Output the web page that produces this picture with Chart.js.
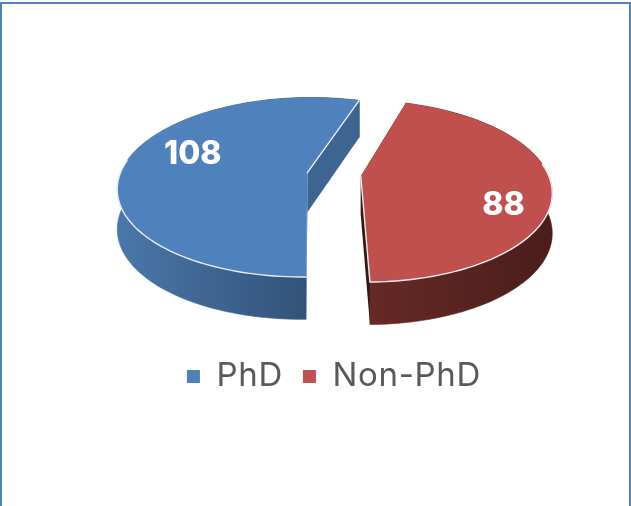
<!DOCTYPE html>
<html>
<head>
<meta charset="utf-8">
<style>
html,body{margin:0;padding:0;background:#fff;width:631px;height:506px;overflow:hidden}
#frame{position:absolute;left:0;top:2px;width:627px;height:520px;border:solid #4f81bd;border-width:2px 2px 0 2px;box-sizing:content-box}
#wrap{position:absolute;left:0;top:0;width:631px;height:506px}
canvas{filter:blur(0.5px)}
</style>
<script src="https://cdn.jsdelivr.net/npm/chart.js@4"></script>
</head>
<body>
<div id="frame"></div>
<div id="wrap"><canvas id="c" width="631" height="506"></canvas></div>
<script>
const categories = ['PhD', 'Non-PhD'];
const values = [108, 88];
const topColors = ['#4f81bd', '#c0504d'];
const rimColors = [['#4a77aa', '#2c486b'], ['#662925', '#4a1d1b']];
const wallColors = ['#3e6491', '#3b1513'];
const firstSliceAngle = 179;
const explode = 0.144;      // slice pull-out, fraction of radius
const tilt = {sx: 187.5, sy: 88, persp: 0.162, depth: 39.5, depthPersp: 0.07};
const labelTurn = 13 * Math.PI / 180;
const labelFrac = [0.69, 0.77];
const labelDrop = 3;
const legendSpacing = '0.7px';

function pt(el, a, frac) {
  const mid = (el.startAngle + el.endAngle) / 2;
  const u = explode * Math.cos(mid) + frac * Math.cos(a);
  const v = explode * Math.sin(mid) + frac * Math.sin(a);
  const w = 1 - tilt.persp * v;
  const x = el.x + tilt.sx * u / w, y = el.y + tilt.sy * v / w;
  return {x, y, h: tilt.depth / (1 - tilt.depthPersp * v), front: Math.sin(a) > -0.15};
}
function rim(el) {
  const n = 120, out = [];
  for (let i = 0; i <= n; i++) out.push(pt(el, el.startAngle + (el.endAngle - el.startAngle) * i / n, 1));
  return out;
}
const pie3d = {
  id: 'pie3d',
  beforeLayout(chart) { chart.ctx.letterSpacing = legendSpacing; },
  beforeDatasetDraw(chart) {
    const ctx = chart.ctx, meta = chart.getDatasetMeta(0);
    ctx.save();
    ctx.letterSpacing = '0px';
    meta.data.forEach((el, i) => {
      const pts = rim(el), tip = pt(el, 0, 0);
      const last = pts[pts.length - 1];
      const xs = pts.map(p => p.x);
      const g = ctx.createLinearGradient(Math.min(...xs), 0, Math.max(...xs), 0);
      g.addColorStop(0, rimColors[i][0]);
      g.addColorStop(1, rimColors[i][1]);
      // outer wall
      ctx.fillStyle = g; ctx.strokeStyle = g; ctx.lineWidth = 0.6;
      ctx.beginPath();
      pts.forEach((p, j) => j ? ctx.lineTo(p.x, p.y) : ctx.moveTo(p.x, p.y));
      for (let j = pts.length - 1; j >= 0; j--) ctx.lineTo(pts[j].x, pts[j].y + pts[j].h);
      ctx.closePath(); ctx.fill(); ctx.stroke();
      // inner cut walls
      ctx.fillStyle = wallColors[i];
      [pts[0], last].forEach(p => {
        ctx.beginPath();
        ctx.moveTo(tip.x, tip.y);
        ctx.lineTo(p.x, p.y);
        ctx.lineTo(p.x, p.y + p.h);
        ctx.lineTo(tip.x, tip.y + tip.h);
        ctx.closePath(); ctx.fill();
      });
      // top surface
      ctx.fillStyle = topColors[i];
      ctx.beginPath();
      ctx.moveTo(tip.x, tip.y);
      pts.forEach(p => ctx.lineTo(p.x, p.y));
      ctx.closePath(); ctx.fill();
      // light bevel where the top meets a visible wall
      ctx.strokeStyle = '#e9edf3'; ctx.lineWidth = 1.4; ctx.lineJoin = 'round'; ctx.lineCap = 'round';
      ctx.beginPath();
      let pen = false;
      pts.forEach(p => {
        if (p.front) { pen ? ctx.lineTo(p.x, p.y) : ctx.moveTo(p.x, p.y); pen = true; }
        else pen = false;
      });
      ctx.moveTo(tip.x, tip.y);
      ctx.lineTo(last.x, last.y);
      ctx.stroke();
    });
    // value labels
    ctx.fillStyle = '#ffffff';
    ctx.font = '800 32px Inter';
    ctx.textAlign = 'center'; ctx.textBaseline = 'middle';
    meta.data.forEach((el, i) => {
      const mid = (el.startAngle + el.endAngle) / 2;
      const p = pt(el, mid + labelTurn, labelFrac[i]);
      ctx.fillText(String(values[i]), p.x, p.y + labelDrop);
    });
    ctx.restore();
    chart.ctx.letterSpacing = legendSpacing;
    return false;
  }
};
new Chart(document.getElementById('c'), {
  type: 'pie',
  data: {labels: categories, datasets: [{data: values, backgroundColor: topColors, borderWidth: 0}]},
  plugins: [pie3d],
  options: {
    responsive: false,
    animation: false,
    rotation: firstSliceAngle,
    layout: {padding: {left: 37, right: 0, top: 9, bottom: 103}},
    plugins: {
      tooltip: {enabled: false},
      legend: {
        position: 'bottom',
        labels: {
          usePointStyle: true, pointStyle: 'rect', boxWidth: 13, boxHeight: 13,
          padding: 20, color: '#595959',
          font: {family: 'Inter', size: 33, weight: '400'}
        }
      }
    }
  }
});
</script>
</body>
</html>
